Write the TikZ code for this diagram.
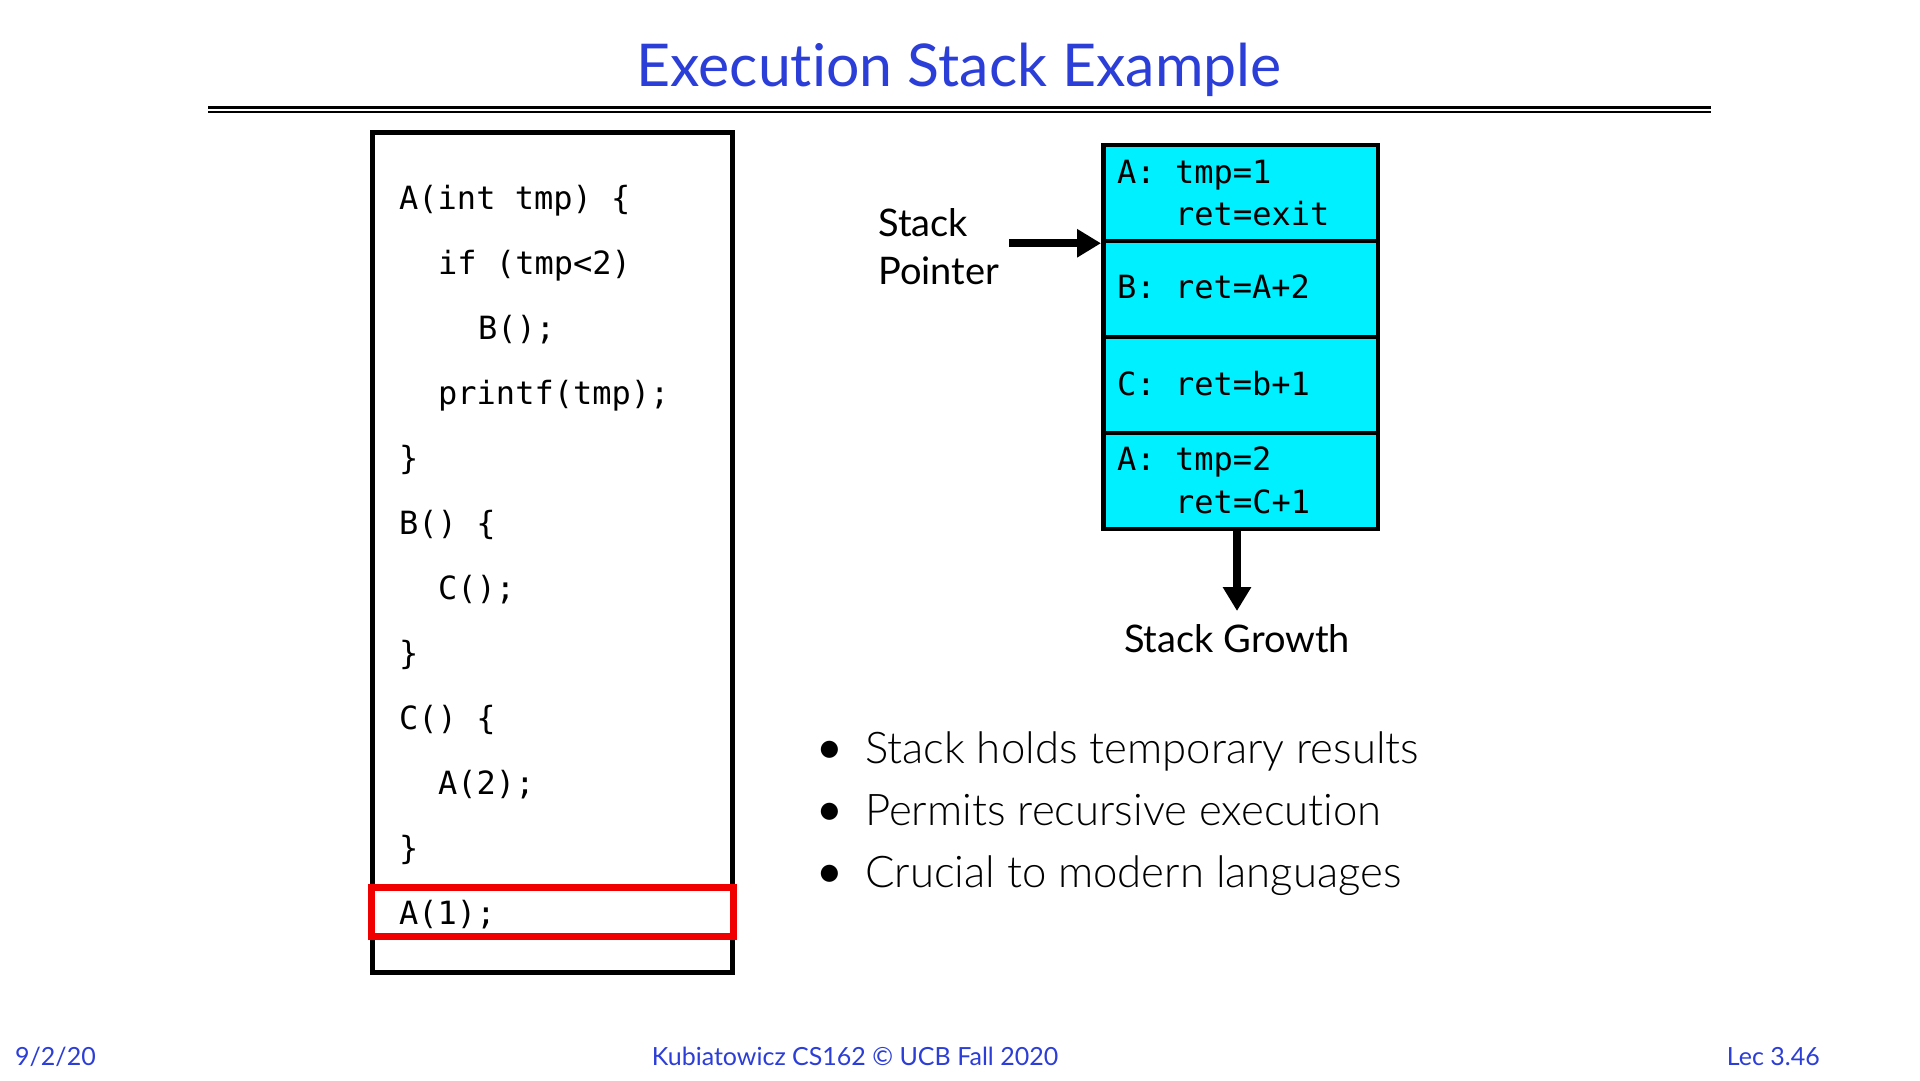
\documentclass[tikz,border=0pt]{standalone}
\usepackage{fontspec}
\setmainfont{Lato}[Ligatures=NoCommon]
\setmonofont{DejaVu Sans Mono}
\newfontfamily\lightfont{Lato Light}[Ligatures=NoCommon]
\usetikzlibrary{arrows.meta}
\definecolor{slideblue}{RGB}{44,62,216}
\definecolor{framecyan}{RGB}{0,240,255}
\definecolor{callred}{RGB}{240,0,0}

\begin{document}
\begin{tikzpicture}[x=1pt,y=-1pt,
  code/.style={anchor=base west, inner sep=0pt, font=\fontsize{32}{38}\selectfont\ttfamily},
  frame/.style={draw, fill=framecyan, line width=4.5pt, minimum width=274.5pt, minimum height=96pt, inner sep=0pt},
  label/.style={inner sep=0pt, font=\fontsize{38}{46}\selectfont},
  dot/.style={inner sep=0pt, anchor=base, font=\fontsize{46}{52}\selectfont},
  bullet/.style={anchor=base west, inner sep=0pt, font=\fontsize{43.7}{52}\selectfont\lightfont},
  footer/.style={inner sep=0pt, text=slideblue, font=\fontsize{25}{30}\selectfont},
  fatarrow/.style={line width=8pt, -{Triangle[length=24pt,width=27pt]}}]

\useasboundingbox (0,0) rectangle (1920,1080);
\fill[white] (0,0) rectangle (1920,1080);

% title and double rule
\node[anchor=base, inner sep=0pt, text=slideblue, font=\fontsize{59}{71}\selectfont] (title) at (959,86) {Execution Stack Example};
\draw[line width=3pt] (208,107) -- (1711,107);
\draw[line width=2pt] (208,111.5) -- (1711,111.5);

% source code listing
\node[draw, line width=5pt, minimum width=360pt, minimum height=840pt, inner sep=0pt] (codebox) at (552.5,552.5) {};
\node[code] (c1)  at (399,209) {A(int tmp) \{};
\node[code] (c2)  at (438,274) {if (tmp<2)};
\node[code] (c3)  at (478,339) {B();};
\node[code] (c4)  at (438,404) {printf(tmp);};
\node[code] (c5)  at (399,469) {\}};
\node[code] (c6)  at (399,534) {B() \{};
\node[code] (c7)  at (438,599) {C();};
\node[code] (c8)  at (399,664) {\}};
\node[code] (c9)  at (399,729) {C() \{};
\node[code] (c10) at (438,794) {A(2);};
\node[code] (c11) at (399,859) {\}};
\node[code] (c12) at (399,924) {A(1);};
\node[draw=callred, line width=7pt, minimum width=362pt, minimum height=49pt, inner sep=0pt] (callbox) at (552.5,912) {};

% stack frames
\node[frame] (f1) at (1240.5,193) {};
\node[frame] (f2) at (1240.5,289) {};
\node[frame] (f3) at (1240.5,385) {};
\node[frame] (f4) at (1240.5,481) {};
\node[code] (f1a) at (1117,183) {A: tmp=1};
\node[code] (f1b) at (1175,225) {ret=exit};
\node[code] (f2a) at (1117,298) {B: ret=A+2};
\node[code] (f3a) at (1117,395) {C: ret=b+1};
\node[code] (f4a) at (1117,470) {A: tmp=2};
\node[code] (f4b) at (1175,513) {ret=C+1};

% stack pointer
\node[label, anchor=base west] (sp1) at (878,236) {Stack};
\node[label, anchor=base west] (sp2) at (878,284) {Pointer};
\coordinate (sptail) at (1009,0);
\draw[fatarrow] (sptail |- f1.south west) -- (f1.south west);

% growth direction
\node[label, anchor=base] (growth) at (1237,652) {Stack Growth};
\coordinate (gtip) at (1237,611);
\draw[fatarrow] (f4.south -| gtip) -- (gtip);

% bullet list
\node[dot] (d1) at (830,763) {\textbullet};
\node[dot] (d2) at (830,825) {\textbullet};
\node[dot] (d3) at (830,887) {\textbullet};
\node[bullet] (b1) at (865,763) {Stack holds temporary results};
\node[bullet] (b2) at (865,825) {Permits recursive execution};
\node[bullet] (b3) at (865,887) {Crucial to modern languages};

% footer
\node[footer, anchor=base west] (date) at (15,1065) {9/2/20};
\node[footer, anchor=base] (course) at (855,1065) {Kubiatowicz CS162 © UCB Fall 2020};
\node[footer, anchor=base east] (lec) at (1820,1065) {Lec 3.46};
\end{tikzpicture}
\end{document}
